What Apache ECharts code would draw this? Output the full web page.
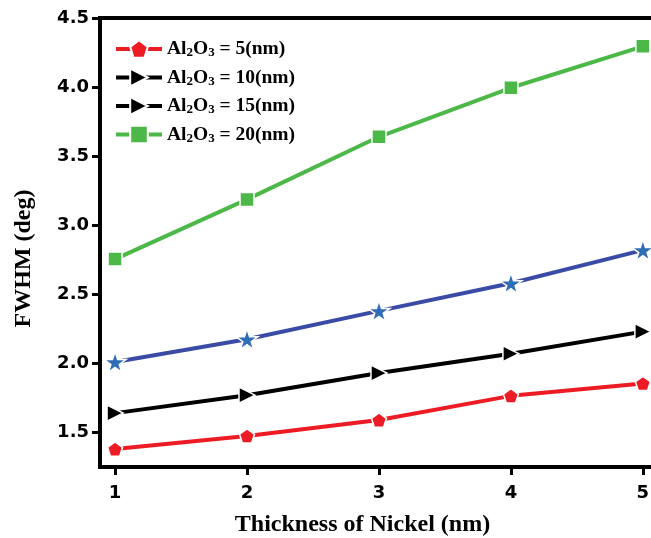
<!DOCTYPE html>
<html>
<head>
<meta charset="utf-8">
<script src="https://cdn.jsdelivr.net/npm/echarts@6/dist/echarts.min.js"></script>
<style>html,body{margin:0;padding:0;background:#fff}#c{width:651px;height:538px}</style>
</head>
<body>
<div id="c"></div>
<script>
const xValues = [1, 2, 3, 4, 5];
const al5 = [1.38, 1.475, 1.59, 1.765, 1.855];
const al10 = [1.64, 1.77, 1.93, 2.07, 2.23];
const al15 = [2.01, 2.175, 2.38, 2.58, 2.82];
const al20 = [2.755, 3.187, 3.64, 3.995, 4.295];
const xTicks = [1, 2, 3, 4, 5];
const yTicks = [1.5, 2.0, 2.5, 3.0, 3.5, 4.0, 4.5];
const legendNames = ['Al2O3 = 5(nm)', 'Al2O3 = 10(nm)', 'Al2O3 = 15(nm)', 'Al2O3 = 20(nm)'];

const PENTA = 'path://M50,0 L97.6,34.5 L79.4,90.5 L20.6,90.5 L2.4,34.5 Z';
const STAR = 'path://M50,0 L61.2,34.5 L97.6,34.5 L68.2,55.9 L79.4,90.5 L50,69.1 L20.6,90.5 L31.8,55.9 L2.4,34.5 L38.8,34.5 Z';
const TRI = 'path://M0,0 L100,50 L0,100 Z';

function pairs(ys) { return xValues.map((x, i) => [x, ys[i]]); }

function mkSeries(name, ys, symbol, size, lineColor, fillColor) {
  return {
    name: name, type: 'line', data: pairs(ys),
    symbol: symbol, symbolSize: size, symbolKeepAspect: true,
    lineStyle: { color: lineColor, width: 4 },
    itemStyle: { color: fillColor, borderColor: '#fff', borderWidth: 1.5 },
    z: 3
  };
}

const chart = echarts.init(document.getElementById('c'), null, { renderer: 'canvas' });
const serifFont = '"Liberation Serif", "Times New Roman", serif';
const sansFont = '"DejaVu Sans", sans-serif';

chart.setOption({
  animation: false,
  backgroundColor: '#fff',
  grid: { left: 100, right: -13, top: 18, bottom: 71, show: true, borderColor: '#000', borderWidth: 4, backgroundColor: 'transparent', outerBoundsMode: 'none', containLabel: false },
  legend: {
    left: 109, top: 34, orient: 'vertical',
    itemWidth: 46, itemHeight: 22, itemGap: 8,
    data: legendNames,
    lineStyle: { width: 4 },
    formatter: function (name) {
      const rest = name.replace('Al2O3', '');
      return '{a|Al}{s|2}{a|O}{s|3}{a|' + rest + '}';
    },
    textStyle: {
      rich: {
        a: { fontFamily: serifFont, fontWeight: 'bold', fontSize: 19.5, lineHeight: 21, color: '#000' },
        s: { fontFamily: serifFont, fontWeight: 'bold', fontSize: 13, lineHeight: 10, verticalAlign: 'bottom', color: '#000' }
      }
    }
  },
  xAxis: {
    type: 'value', min: 0.886, max: 5.16,
    name: 'Thickness of Nickel (nm)', nameLocation: 'middle', nameGap: 46,
    nameTextStyle: { fontFamily: serifFont, fontWeight: 'bold', fontSize: 24, color: '#000', padding: [0, 39, 0, 0] },
    axisLine: { show: true, lineStyle: { color: '#000', width: 4 } },
    axisTick: { show: true, inside: false, length: 8, lineStyle: { color: '#000', width: 3 }, customValues: xTicks },
    axisLabel: { margin: 17, fontFamily: sansFont, fontWeight: 'bold', fontSize: 18, color: '#000', customValues: xTicks },
    splitLine: { show: false }
  },
  yAxis: {
    type: 'value', min: 1.25, max: 4.5,
    name: 'FWHM (deg)', nameLocation: 'middle', nameGap: 64, nameRotate: 90,
    nameTextStyle: { fontFamily: serifFont, fontWeight: 'bold', fontSize: 24, color: '#000', padding: [0, 32, 0, 0] },
    axisLine: { show: true, lineStyle: { color: '#000', width: 4 } },
    axisTick: { show: true, inside: false, length: 8, lineStyle: { color: '#000', width: 3 }, customValues: yTicks },
    axisLabel: { margin: 11, fontFamily: sansFont, fontWeight: 'bold', fontSize: 18, color: '#000', customValues: yTicks, formatter: v => v.toFixed(1) },
    splitLine: { show: false }
  },
  series: [
    mkSeries(legendNames[0], al5, PENTA, 15, '#ED1C24', '#ED1C24'),
    mkSeries(legendNames[1], al10, TRI, 16, '#000000', '#000000'),
    mkSeries('blue-stars', al15, STAR, 22, '#3A4BA6', '#2F6DB6'),
    { name: legendNames[2], type: 'line', data: [], symbol: TRI, symbolSize: 16, symbolKeepAspect: true,
      lineStyle: { color: '#000', width: 4 }, itemStyle: { color: '#000', borderColor: '#fff', borderWidth: 1.5 } },
    mkSeries(legendNames[3], al20, 'rect', 14, '#4CB848', '#4CB848')
  ]
});
</script>
</body>
</html>
